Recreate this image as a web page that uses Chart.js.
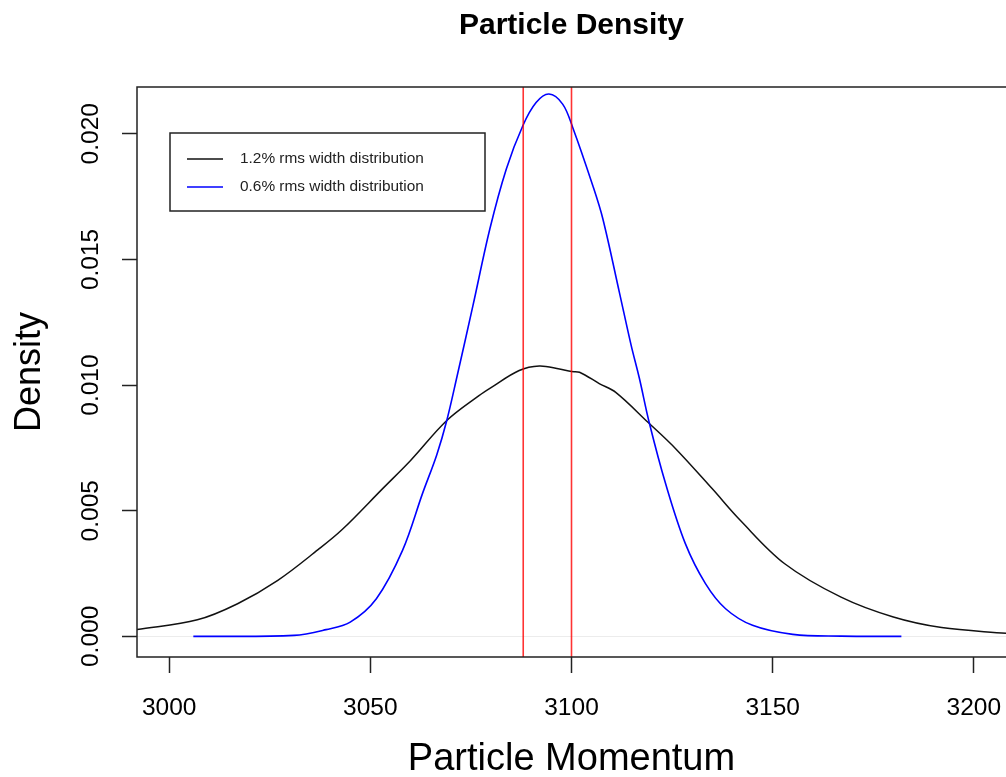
<!DOCTYPE html>
<html>
<head>
<meta charset="utf-8">
<script src="https://cdn.jsdelivr.net/npm/chart.js@4.4.1/dist/chart.umd.min.js"></script>
<style>
    html, body { margin: 0; padding: 0; background: #fff; }
</style>
</head>
<body>
<canvas id="c" width="1006" height="777"></canvas>
<script>
// density curves
const FONT = "'Liberation Sans', Arial, Helvetica, sans-serif";

const chartTitle = "Particle Density";
const xTitle = "Particle Momentum";
const yTitle = "Density";

const xTicks = [3000, 3050, 3100, 3150, 3200];
const yTicks = [0, 0.005, 0.01, 0.015, 0.02];
const xMin = 2992, xMax = 3208;
const yMin = -0.00082, yMax = 0.02186;

const wideLabel = "1.2% rms width distribution";
const wideX = [2992, 3007, 3017, 3027, 3037, 3043, 3053, 3060, 3069, 3077, 3080, 3087, 3092, 3097, 3100, 3102, 3107, 3111, 3119, 3126, 3135, 3142, 3153, 3167, 3180, 3192, 3208];
const wideY = [0.00027, 0.00066, 0.00130, 0.00223, 0.00345, 0.00425, 0.00587, 0.00700, 0.00859, 0.00958, 0.00990, 0.01058, 0.01076, 0.01064, 0.01054, 0.01051, 0.01005, 0.00971, 0.00852, 0.00745, 0.00587, 0.00461, 0.00289, 0.00156, 0.00077, 0.00035, 0.00012];

const narrowLabel = "0.6% rms width distribution";
const narrowX = [3006, 3031, 3039, 3045, 3051.5, 3058, 3063, 3066.5, 3069, 3071.5, 3075.5, 3079.7, 3083.8, 3087.9, 3091.2, 3094.4, 3097.8, 3100.3, 3105.3, 3107.8, 3111.9, 3114.8, 3116.9, 3119.3, 3123.4, 3128.3, 3133.3, 3138.3, 3145, 3155, 3167, 3182];
const narrowY = [0, 0.00004, 0.00027, 0.00057, 0.00150, 0.00342, 0.00570, 0.00722, 0.00859, 0.01031, 0.01316, 0.01621, 0.01860, 0.02032, 0.02124, 0.02158, 0.02118, 0.02025, 0.01793, 0.01661, 0.01369, 0.01160, 0.01025, 0.00852, 0.00607, 0.00369, 0.00210, 0.00110, 0.00044, 0.00008, 0.00001, 0];

// red markers
const markLines = [3088, 3100];

const pts = (xs, ys) => xs.map((x, i) => ({ x, y: ys[i] }));

const datasets = [{
    label: wideLabel,
    data: pts(wideX, wideY),
    borderColor: "#111",
    borderWidth: 1.5,
    tension: 0.35,
    order: 2
}, {
    label: narrowLabel,
    data: pts(narrowX, narrowY),
    borderColor: "#0000ff",
    borderWidth: 1.6,
    tension: 0.35,
    order: 1
}];

for (const m of markLines) {
    datasets.push({
        label: "",
        data: [{ x: m, y: yMin }, { x: m, y: yMax }],
        borderColor: "rgba(255, 0, 0, 0.8)",
        borderWidth: 1.6,
        order: 0
    });
}

const decor = {
    id: "decor",
    afterDraw(chart) {
        const { ctx, chartArea: a, scales } = chart;
        ctx.save();

        // R style box (right side is off the picture)
        ctx.strokeStyle = "#222";
        ctx.lineWidth = 1.5;
        ctx.beginPath();
        ctx.moveTo(a.right + 2, a.top);
        ctx.lineTo(a.left, a.top);
        ctx.lineTo(a.left, a.bottom);
        ctx.lineTo(a.right + 2, a.bottom);
        ctx.stroke();

        // rotated y tick labels
        ctx.fillStyle = "#000";
        ctx.font = "24.5px " + FONT;
        ctx.textAlign = "center";
        ctx.textBaseline = "middle";
        for (const v of yTicks) {
            const y = scales.y.getPixelForValue(v);
            ctx.save();
            ctx.translate(a.left - 46, y);
            ctx.rotate(-Math.PI / 2);
            ctx.fillText(v.toFixed(3), 0, 0);
            ctx.restore();
        }

        // title
        ctx.font = "bold 30px " + FONT;
        ctx.fillText(chartTitle, (a.left + a.right) / 2, 26);

        // legend
        const bx = a.left + 33, by = a.top + 46, bw = 315, bh = 78;
        ctx.strokeStyle = "#222";
        ctx.lineWidth = 1.5;
        ctx.strokeRect(bx, by, bw, bh);
        ctx.font = "15.4px " + FONT;
        ctx.textAlign = "left";
        chart.data.datasets.filter(d => d.label).forEach((d, i) => {
            const ly = by + 26 + i * 28;
            ctx.strokeStyle = d.borderColor;
            ctx.lineWidth = d.borderWidth;
            ctx.beginPath();
            ctx.moveTo(bx + 17, ly);
            ctx.lineTo(bx + 53, ly);
            ctx.stroke();
            ctx.fillStyle = "#222";
            ctx.fillText(d.label, bx + 70, ly);
        });

        ctx.restore();
    }
};

new Chart(document.getElementById("c").getContext("2d"), {
    type: "line",
    data: { datasets },
    plugins: [decor],
    options: {
        responsive: false,
        animation: false,
        layout: { padding: { top: 87, right: 0, left: 0, bottom: 0 } },
        elements: { point: { radius: 0 } },
        plugins: {
            legend: { display: false },
            tooltip: { enabled: false },
            title: { display: false }
        },
        scales: {
            x: {
                type: "linear",
                min: xMin,
                max: xMax,
                afterBuildTicks: s => { s.ticks = xTicks.map(v => ({ value: v })); },
                afterFit: s => {
                    s.height = 120;
                    s.paddingLeft = 0;
                    s.paddingRight = 0;
                },
                grid: {
                    color: "rgba(0,0,0,0)",
                    tickColor: "#222",
                    tickLength: 16,
                    tickWidth: 1.5
                },
                border: { display: false },
                ticks: {
                    color: "#000",
                    font: { family: FONT, size: 24.5 },
                    padding: 21,
                    maxRotation: 0,
                    callback: v => String(v)
                },
                title: {
                    display: true,
                    text: xTitle,
                    color: "#000",
                    font: { family: FONT, size: 38, lineHeight: 0.9 },
                    padding: { top: 0, bottom: 0 }
                }
            },
            y: {
                type: "linear",
                min: yMin,
                max: yMax,
                afterBuildTicks: s => { s.ticks = yTicks.map(v => ({ value: v })); },
                afterFit: s => { s.width = 137; },
                grid: {
                    color: c => (c.tick && c.tick.value === 0) ? "#ececec" : "rgba(0,0,0,0)",
                    tickColor: "#222",
                    tickLength: 15,
                    tickWidth: 1.5
                },
                border: { display: false },
                ticks: { display: false },
                title: {
                    display: true,
                    text: yTitle,
                    color: "#000",
                    font: { family: FONT, size: 36, lineHeight: 1 },
                    padding: { top: 12, bottom: 0 }
                }
            }
        }
    }
});
</script>
</body>
</html>
